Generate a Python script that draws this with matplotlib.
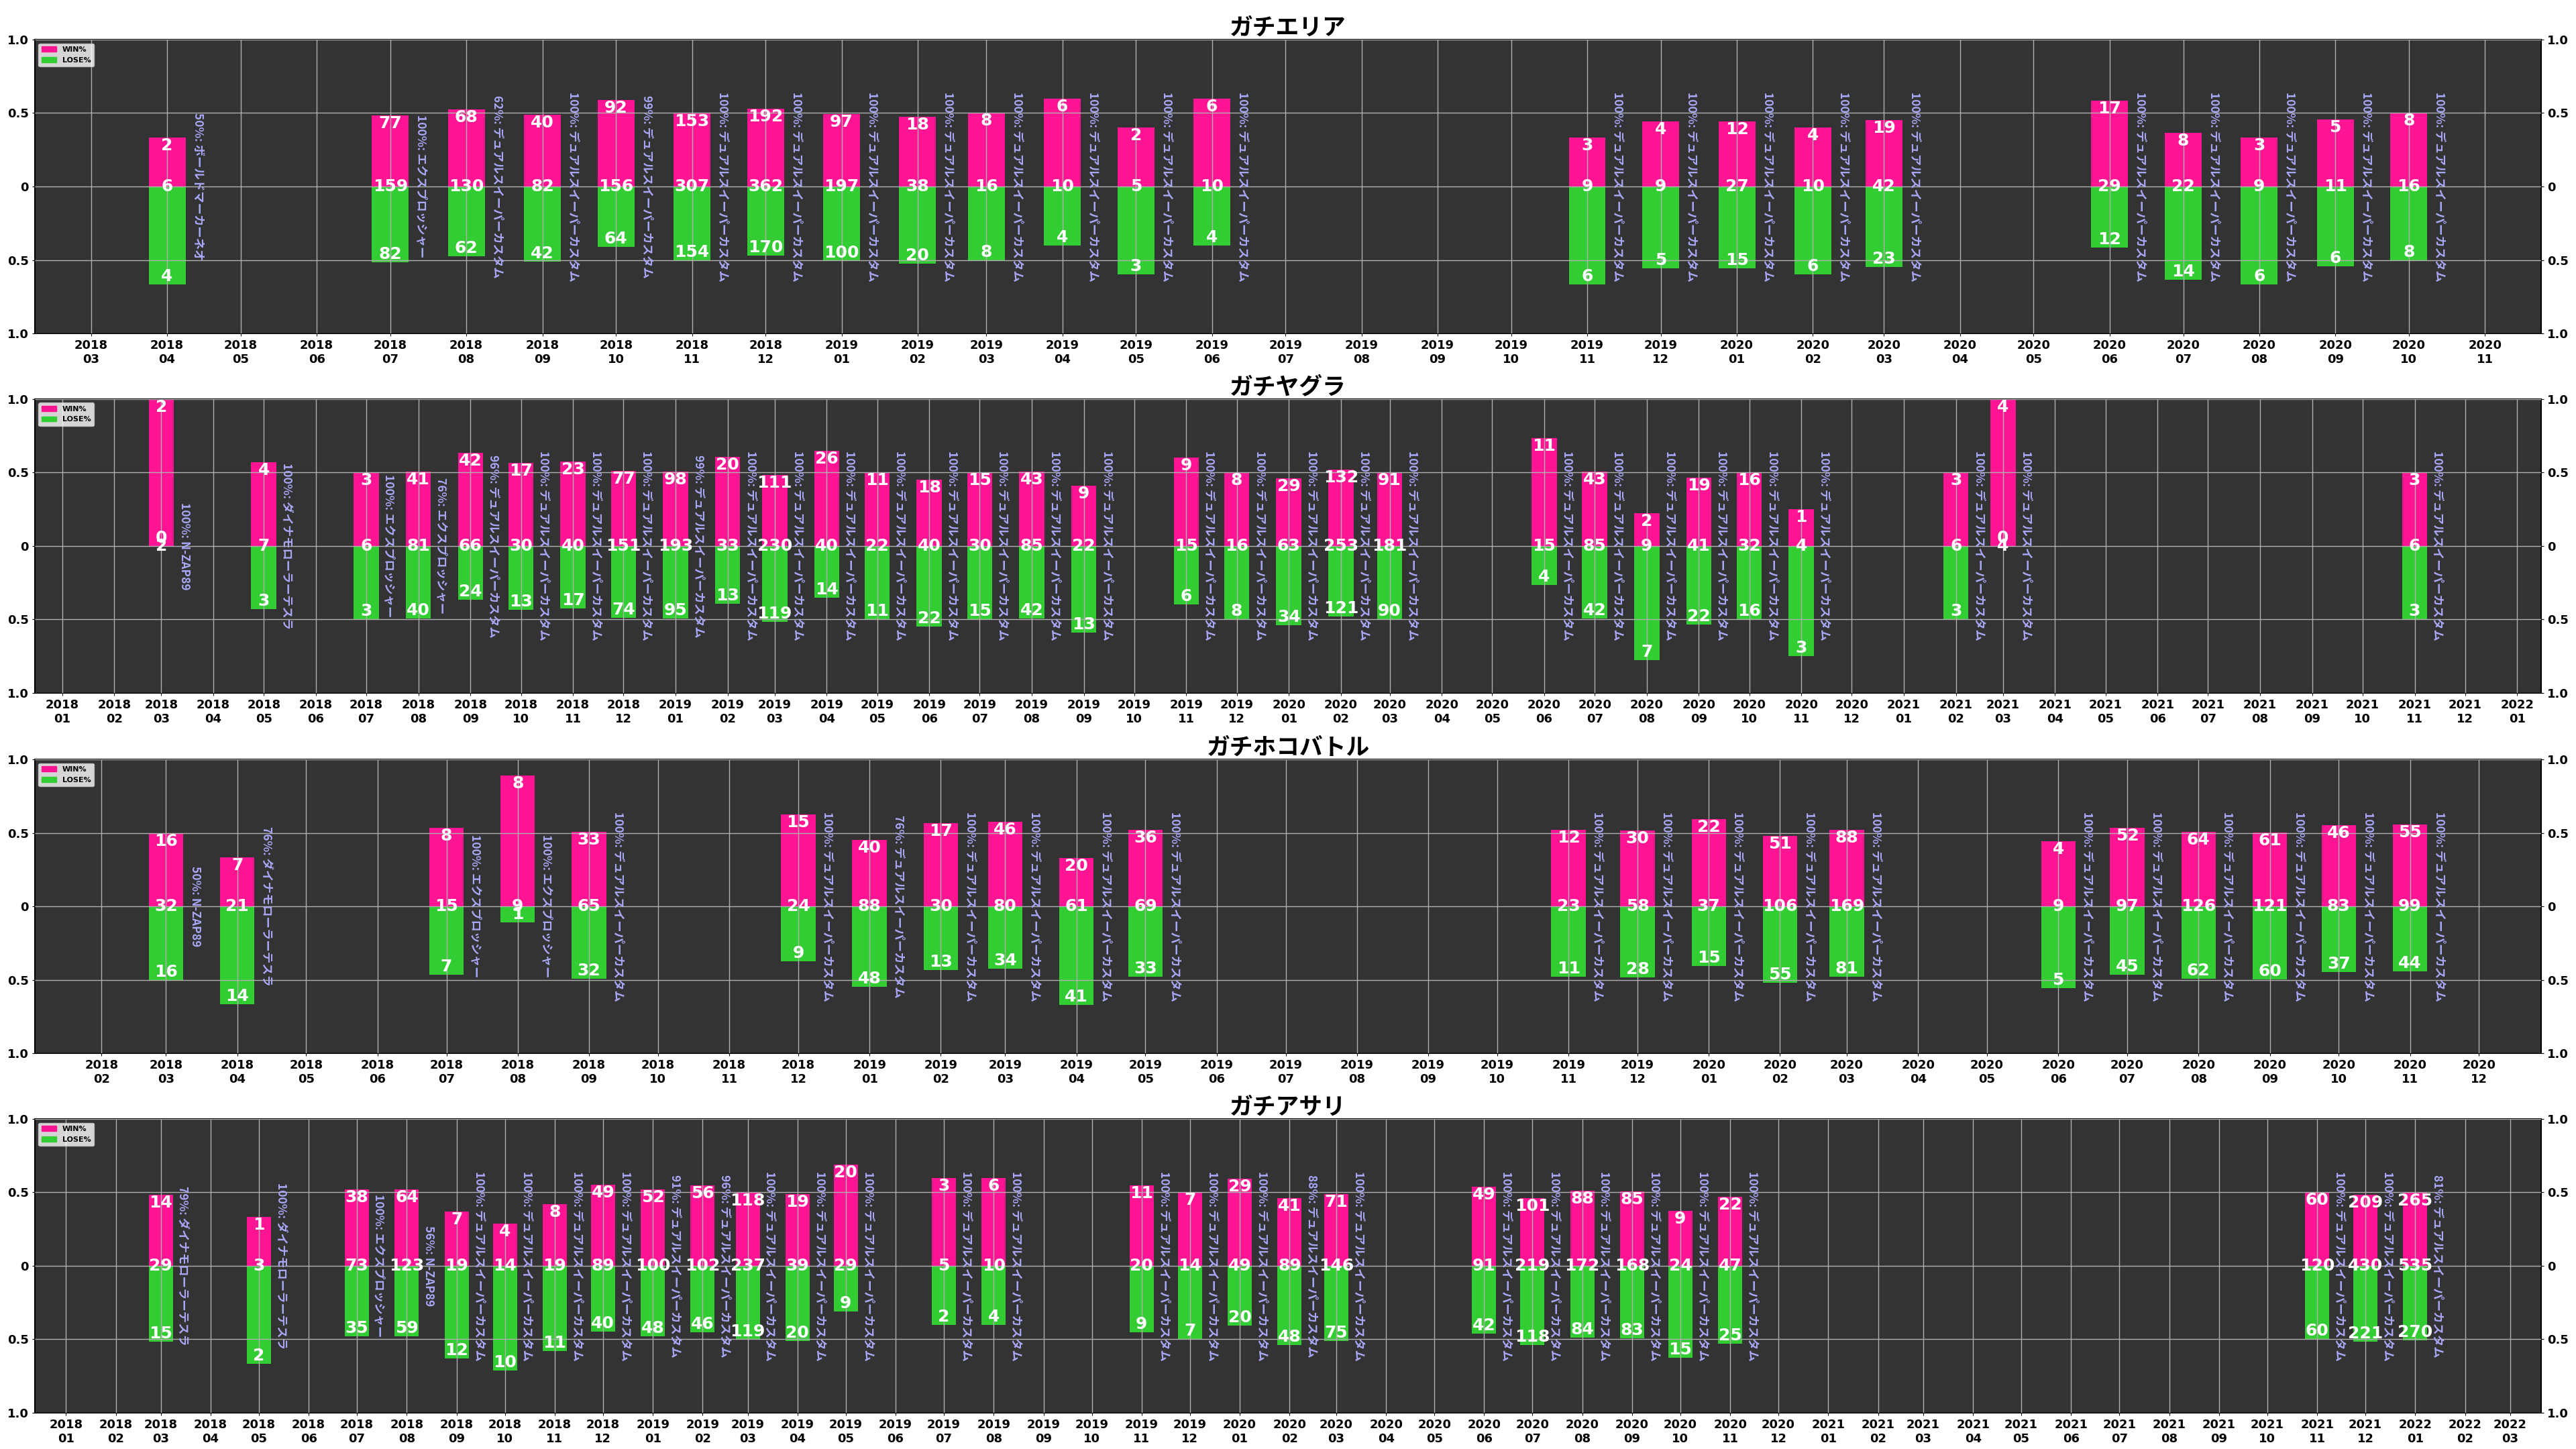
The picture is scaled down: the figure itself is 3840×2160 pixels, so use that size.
import datetime as dt
import matplotlib
matplotlib.use("Agg")
import matplotlib.pyplot as plt
import matplotlib.dates as mdates
from matplotlib.patches import Patch

plt.rcParams['font.family'] = ['DejaVu Sans', 'Noto Sans CJK JP']

# ---------------- data ----------------
DUAL = "デュアルスイーパーカスタム"
EXP = "エクスプロッシャー"
NZAP = "N-ZAP89"
DYNA = "ダイナモローラーテスラ"
BOLD = "ボールドマーカーネオ"

area_title = "ガチエリア"
area_months = ["2018-04", "2018-07", "2018-08", "2018-09", "2018-10", "2018-11", "2018-12",
               "2019-01", "2019-02", "2019-03", "2019-04", "2019-05", "2019-06", "2019-11",
               "2019-12", "2020-01", "2020-02", "2020-03", "2020-06", "2020-07", "2020-08",
               "2020-09", "2020-10"]
area_win = [2, 77, 68, 40, 92, 153, 192, 97, 18, 8, 6, 2, 6, 3, 4, 12, 4, 19, 17, 8, 3, 5, 8]
area_lose = [4, 82, 62, 42, 64, 154, 170, 100, 20, 8, 4, 3, 4, 6, 5, 15, 6, 23, 12, 14, 6, 6, 8]
area_pct = [50, 100, 62, 100, 99, 100, 100, 100, 100, 100, 100, 100, 100, 100, 100, 100, 100,
            100, 100, 100, 100, 100, 100]
area_weapon = [BOLD, EXP] + [DUAL] * 21

yagura_title = "ガチヤグラ"
yagura_months = ["2018-03", "2018-05", "2018-07", "2018-08", "2018-09", "2018-10", "2018-11",
                 "2018-12", "2019-01", "2019-02", "2019-03", "2019-04", "2019-05", "2019-06",
                 "2019-07", "2019-08", "2019-09", "2019-11", "2019-12", "2020-01", "2020-02",
                 "2020-03", "2020-06", "2020-07", "2020-08", "2020-09", "2020-10", "2020-11",
                 "2021-02", "2021-03", "2021-11"]
yagura_win = [2, 4, 3, 41, 42, 17, 23, 77, 98, 20, 111, 26, 11, 18, 15, 43, 9, 9, 8, 29, 132,
              91, 11, 43, 2, 19, 16, 1, 3, 4, 3]
yagura_lose = [0, 3, 3, 40, 24, 13, 17, 74, 95, 13, 119, 14, 11, 22, 15, 42, 13, 6, 8, 34, 121,
               90, 4, 42, 7, 22, 16, 3, 3, 0, 3]
yagura_pct = [100, 100, 100, 76, 96, 100, 100, 100, 99, 100, 100, 100, 100, 100, 100, 100, 100,
              100, 100, 100, 100, 100, 100, 100, 100, 100, 100, 100, 100, 100, 100]
yagura_weapon = [NZAP, DYNA, EXP, EXP] + [DUAL] * 27

hoko_title = "ガチホコバトル"
hoko_months = ["2018-03", "2018-04", "2018-07", "2018-08", "2018-09", "2018-12", "2019-01",
               "2019-02", "2019-03", "2019-04", "2019-05", "2019-11", "2019-12", "2020-01",
               "2020-02", "2020-03", "2020-06", "2020-07", "2020-08", "2020-09", "2020-10",
               "2020-11"]
hoko_win = [16, 7, 8, 8, 33, 15, 40, 17, 46, 20, 36, 12, 30, 22, 51, 88, 4, 52, 64, 61, 46, 55]
hoko_lose = [16, 14, 7, 1, 32, 9, 48, 13, 34, 41, 33, 11, 28, 15, 55, 81, 5, 45, 62, 60, 37, 44]
hoko_pct = [50, 76, 100, 100, 100, 100, 76, 100, 100, 100, 100, 100, 100, 100, 100, 100, 100,
            100, 100, 100, 100, 100]
hoko_weapon = [NZAP, DYNA, EXP, EXP] + [DUAL] * 18

asari_title = "ガチアサリ"
asari_months = ["2018-03", "2018-05", "2018-07", "2018-08", "2018-09", "2018-10", "2018-11",
                "2018-12", "2019-01", "2019-02", "2019-03", "2019-04", "2019-05", "2019-07",
                "2019-08", "2019-11", "2019-12", "2020-01", "2020-02", "2020-03", "2020-06",
                "2020-07", "2020-08", "2020-09", "2020-10", "2020-11", "2021-11", "2021-12",
                "2022-01"]
asari_win = [14, 1, 38, 64, 7, 4, 8, 49, 52, 56, 118, 19, 20, 3, 6, 11, 7, 29, 41, 71, 49, 101,
             88, 85, 9, 22, 60, 209, 265]
asari_lose = [15, 2, 35, 59, 12, 10, 11, 40, 48, 46, 119, 20, 9, 2, 4, 9, 7, 20, 48, 75, 42, 118,
              84, 83, 15, 25, 60, 221, 270]
asari_pct = [79, 100, 100, 56, 100, 100, 100, 100, 91, 96, 100, 100, 100, 100, 100, 100, 100,
             100, 88, 100, 100, 100, 100, 100, 100, 100, 100, 100, 81]
asari_weapon = [DYNA, DYNA, EXP, NZAP] + [DUAL] * 25

ytick_vals = [-1.0, -0.5, 0.0, 0.5, 1.0]
ytick_labels = ["1.0", "0.5", "0", "0.5", "1.0"]
legend_labels = ["WIN%", "LOSE%"]

# ---------------- style ----------------
WIN_C = "#ff1493"
LOSE_C = "#32cd32"
BG_C = "#333333"
GRID_C = "#b0b0b0"
TXT_C = "#a8a8f8"
BAR_W = 15  # days
CJK = ['Noto Sans CJK JP', 'DejaVu Sans']

panels = [
    (area_title, area_months, area_win, area_lose, area_pct, area_weapon),
    (yagura_title, yagura_months, yagura_win, yagura_lose, yagura_pct, yagura_weapon),
    (hoko_title, hoko_months, hoko_win, hoko_lose, hoko_pct, hoko_weapon),
    (asari_title, asari_months, asari_win, asari_lose, asari_pct, asari_weapon),
]

fig = plt.figure(figsize=(38.4, 21.6), dpi=100)
left, width = 0.0135, 0.973
height = 0.2028
bottoms = [0.7699, 0.5218, 0.2731, 0.0250]

for (title, months, wins, loses, pcts, weapons), b in zip(panels, bottoms):
    ax = fig.add_axes([left, b, width, height])
    ax.set_facecolor(BG_C)
    dates = [dt.datetime.strptime(m, "%Y-%m") for m in months]
    totals = [w + l for w, l in zip(wins, loses)]
    wfrac = [w / t for w, t in zip(wins, totals)]
    lfrac = [-l / t for l, t in zip(loses, totals)]
    ax.bar(dates, wfrac, width=BAR_W, color=WIN_C, zorder=1)
    ax.bar(dates, lfrac, width=BAR_W, color=LOSE_C, zorder=1)
    for d, w, l, t, wf, lf, p, wp in zip(dates, wins, loses, totals, wfrac, lfrac, pcts, weapons):
        ax.text(d, wf, str(w), ha='center', va='top', color='white', fontsize=18,
                fontweight='bold', zorder=4)
        ax.text(d, 0, str(t), ha='center', va='center', color='white', fontsize=18,
                fontweight='bold', zorder=4)
        ax.text(d, lf, str(l), ha='center', va='bottom', color='white', fontsize=18,
                fontweight='bold', zorder=4)
        ax.text(d + dt.timedelta(days=10), 0, f"{p}%: {wp}", rotation=270, ha='left',
                va='center', color=TXT_C, fontsize=12.5, fontweight='bold', family=CJK,
                zorder=4)
    ax.set_ylim(-1, 1)
    ax.set_yticks(ytick_vals)
    ax.set_yticklabels(ytick_labels)
    ax.xaxis.set_major_locator(mdates.MonthLocator())
    ax.xaxis.set_major_formatter(mdates.DateFormatter("%Y\n%m"))
    ax.tick_params(axis='x', labelsize=13, length=3)
    ax.tick_params(axis='y', labelsize=13, length=3, right=True, labelright=True)
    for lab in ax.get_xticklabels() + ax.get_yticklabels():
        lab.set_fontweight('bold')
    for t in ax.yaxis.get_major_ticks():
        t.label2.set_fontweight('bold')
    ax.set_axisbelow(False)
    ax.grid(True, color=GRID_C, linewidth=1.0)
    for s in ax.spines.values():
        s.set_color('black')
        s.set_linewidth(1.5)
    ax.set_title(title, fontsize=25, fontweight='bold', family=CJK, pad=4)
    handles = [Patch(color=WIN_C), Patch(color=LOSE_C)]
    ax.legend(handles, legend_labels, loc='upper left',
              prop={'weight': 'bold', 'size': 8})

fig.savefig("out.png", dpi=100, facecolor='white')
